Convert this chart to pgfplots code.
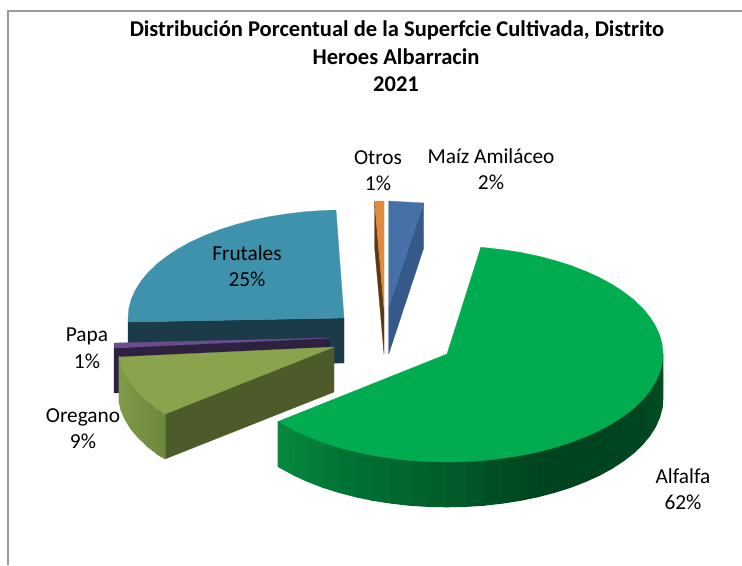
\documentclass[border=0pt]{standalone}
\usepackage{pgfplots}
\pgfplotsset{compat=1.18}
\usepackage{fontspec}
\setmainfont{Carlito}
\definecolor{frtop}{HTML}{3F92AC}
\definecolor{frside}{HTML}{1B3B48}
\definecolor{patop}{HTML}{6B4C8E}
\definecolor{paside}{HTML}{2E2140}
\definecolor{ortop}{HTML}{89A44C}
\definecolor{orcut}{HTML}{4D5A2A}
\definecolor{ottop}{HTML}{E08A3E}
\definecolor{otside}{HTML}{5E3A14}
\definecolor{mztop}{HTML}{4571A8}
\definecolor{mzside}{HTML}{355A8A}
\definecolor{altop}{HTML}{00AC4F}
\newcommand\poly[2]{\addplot[fill=#1,draw=#1,line width=0.2pt] coordinates {#2} -- cycle;}
\newcommand\sd[4]{\addplot[fill={rgb,255:red,#1;green,#2;blue,#3},draw={rgb,255:red,#1;green,#2;blue,#3},line width=0.9pt,line join=round] coordinates {#4} -- cycle;}
\newcommand\lab[4][16]{\node[anchor=base,inner sep=0pt,font=\fontsize{#1}{#1}\selectfont] at (axis cs:#2,#3) {#4};}
\begin{document}
\begin{tikzpicture}
\begin{axis}[scale only axis,width=556.5pt,height=423.75pt,xmin=0,xmax=742,ymin=0,ymax=565,y dir=reverse,hide axis,clip=true]
\path (axis cs:0,0) rectangle (axis cs:742,565);
% frame
\addplot[draw=black!40,line width=1.4pt] coordinates {(8,565) (8,11) (742,11)};
% Frutales 25
\poly{frside}{(128,322)(344,318)(344,363)(128,367)}
\poly{frtop}{(128,322)(128,318)(128.8,308.6)(131.3,299.2)(135.4,290)(141,281.1)(148.2,272.4)(156.9,264)(167.1,256.1)(178.5,248.6)(191.3,241.6)(205.2,235.3)(220.1,229.5)(236,224.5)(252.7,220.1)(270.1,216.5)(288.1,213.7)(306.5,211.6)(325.2,210.4)(336,210)(344,318)}
% Papa 1
\poly{paside}{(114,348)(330,339)(330,384)(114,393)}
\poly{patop}{(114,343)(330,338)(114,348)}
% Oregano 9
\poly{orcut}{(165,414)(334,347)(334,392)(165,459)}
\sd{111}{138}{62}{(165,414)(157,409)(157,454)(165,458.6)}
\sd{114}{141}{64}{(157,409)(147,401)(147,446)(157,453.6)}
\sd{117}{144}{66}{(147,401)(138.2,392.6)(138.2,437.3)(147,445.6)}
\sd{120}{147}{67}{(138.2,392.6)(131,384)(131,428.7)(138.2,437.3)}
\sd{123}{150}{69}{(131,384)(125.4,375)(125.4,419.7)(131,428.7)}
\sd{125}{152}{70}{(125.4,375)(121.3,365.7)(121.3,410.4)(125.4,419.7)}
\sd{127}{154}{71}{(121.3,365.7)(119.3,357)(119.3,401.7)(121.3,410.4)}
\poly{ortop}{(165,414)(157,409)(147,401)(138.2,392.6)(131,384)(125.4,375)(121.3,365.7)(119,357)(334,347)}
% Otros 1
\poly{otside}{(374.5,201)(384,309)(384,354)(374.5,246)}
\poly{ottop}{(374.5,201)(384,201)(384,309)}
% Maiz 2
\poly{mzside}{(423.7,203)(423.7,248)(388.7,354)(388.7,307)}
\poly{mztop}{(388.7,201)(423.7,203)(388.7,307)}
% Alfalfa 62 : rim
\sd{0}{79}{36}{(662.7,354)(661.9,363.4)(661.9,408.1)(662.7,398.7)}
\sd{0}{77}{35}{(661.9,363.4)(659.4,372.8)(659.4,417.5)(661.9,408.1)}
\sd{0}{75}{34}{(659.4,372.8)(655.3,382)(655.3,426.7)(659.4,417.5)}
\sd{0}{74}{34}{(655.3,382)(649.7,390.9)(649.7,435.6)(655.3,426.7)}
\sd{0}{72}{33}{(649.7,390.9)(642.5,399.6)(642.5,444.3)(649.7,435.6)}
\sd{0}{71}{33}{(642.5,399.6)(633.8,408)(633.8,452.7)(642.5,444.3)}
\sd{0}{70}{32}{(633.8,408)(623.6,415.9)(623.6,460.6)(633.8,452.7)}
\sd{0}{69}{32}{(623.6,415.9)(612.2,423.4)(612.2,468.1)(623.6,460.6)}
\sd{0}{68}{31}{(612.2,423.4)(599.4,430.4)(599.4,475.1)(612.2,468.1)}
\sd{0}{68}{31}{(599.4,430.4)(585.5,436.7)(585.5,481.4)(599.4,475.1)}
\sd{0}{67}{31}{(585.5,436.7)(570.6,442.5)(570.6,487.2)(585.5,481.4)}
\sd{0}{67}{31}{(570.6,442.5)(554.7,447.5)(554.7,492.2)(570.6,487.2)}
\sd{0}{68}{31}{(554.7,447.5)(538,451.9)(538,496.6)(554.7,492.2)}
\sd{0}{70}{32}{(538,451.9)(520.6,455.5)(520.6,500.2)(538,496.6)}
\sd{0}{74}{34}{(520.6,455.5)(502.6,458.3)(502.6,503)(520.6,500.2)}
\sd{0}{79}{36}{(502.6,458.3)(484.2,460.4)(484.2,505.1)(502.6,503)}
\sd{0}{85}{39}{(484.2,460.4)(465.5,461.6)(465.5,506.3)(484.2,505.1)}
\sd{0}{90}{41}{(465.5,461.6)(446.7,462)(446.7,506.7)(465.5,506.3)}
\sd{0}{94}{43}{(446.7,462)(427.9,461.6)(427.9,506.3)(446.7,506.7)}
\sd{0}{99}{46}{(427.9,461.6)(409.2,460.4)(409.2,505.1)(427.9,506.3)}
\sd{0}{103}{47}{(409.2,460.4)(390.8,458.3)(390.8,503)(409.2,505.1)}
\sd{0}{107}{49}{(390.8,458.3)(372.8,455.5)(372.8,500.2)(390.8,503)}
\sd{0}{110}{51}{(372.8,455.5)(355.4,451.9)(355.4,496.6)(372.8,500.2)}
\sd{0}{114}{52}{(355.4,451.9)(338.7,447.5)(338.7,492.2)(355.4,496.6)}
\sd{0}{119}{55}{(338.7,447.5)(322.8,442.5)(322.8,487.2)(338.7,492.2)}
\sd{2}{125}{58}{(322.8,442.5)(307.9,436.7)(307.9,481.4)(322.8,487.2)}
\sd{4}{130}{60}{(307.9,436.7)(294,430.4)(294,475.1)(307.9,481.4)}
\sd{7}{135}{62}{(294,430.4)(278.3,421.8)(278.3,466.5)(294,475.1)}
\poly{altop}{(447,354)(480.8,247.3)(484.5,247.6)(502.9,249.7)(520.9,252.5)(538.3,256.1)(555,260.5)(570.9,265.5)(585.8,271.3)(599.7,277.6)(612.5,284.6)(623.9,292.1)(634.1,300)(642.8,308.4)(650,317.1)(655.6,326)(659.7,335.2)(662.2,344.6)(663,354)(662.2,363.4)(659.7,372.8)(655.6,382)(650,390.9)(642.8,399.6)(634.1,408)(623.9,415.9)(612.5,423.4)(599.7,430.4)(585.8,436.7)(570.9,442.5)(555,447.5)(538.3,451.9)(520.9,455.5)(502.9,458.3)(484.5,460.4)(465.8,461.6)(447,462)(428.2,461.6)(409.5,460.4)(391.1,458.3)(373.1,455.5)(355.7,451.9)(339,447.5)(323.1,442.5)(308.2,436.7)(294.3,430.4)(278,421.5)}
% text
\lab[16.9]{397}{36.5}{\bfseries Distribución Porcentual de la Superfcie Cultivada, Distrito}
\lab[16.9]{396}{64}{\bfseries Heroes Albarracin}
\lab[16.9]{396}{91.7}{\bfseries 2021}
\lab{378}{164}{Otros}
\lab{378}{190}{1\%}
\lab{491}{163}{Maíz Amiláceo}
\lab{491}{189}{2\%}
\lab{247}{260}{Frutales}
\lab{247}{286}{25\%}
\lab{87}{341}{Papa}
\lab{87}{368}{1\%}
\lab{83}{422}{Oregano}
\lab{83}{448}{9\%}
\lab{683}{483}{Alfalfa}
\lab{683}{509}{62\%}
\end{axis}
\end{tikzpicture}
\end{document}
